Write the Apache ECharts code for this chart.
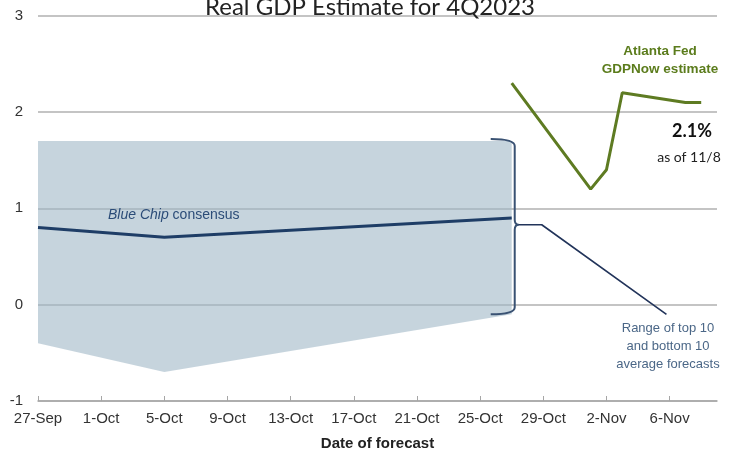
<!DOCTYPE html>
<html>
<head>
<meta charset="utf-8">
<script src="https://cdn.jsdelivr.net/npm/echarts@6/dist/echarts.min.js"></script>
<style>html,body{margin:0;padding:0;background:#fff}#c{width:740px;height:456px}</style>
</head>
<body>
<div id="c"></div>
<script>
// ---- data ----
var startDate = '2023-09-27';
var tickLabels = ['27-Sep','1-Oct','5-Oct','9-Oct','13-Oct','17-Oct','21-Oct','25-Oct','29-Oct','2-Nov','6-Nov'];
var blueChipDates = ['2023-09-27','2023-10-05','2023-10-27'];
var blueChipValues = [0.8, 0.7, 0.9];
var bandDates = ['2023-09-27','2023-10-05','2023-10-27'];
var bandLow = [-0.4, -0.7, -0.1];
var bandHigh = [1.7, 1.7, 1.7];
var gdpNowDates = ['2023-10-27','2023-11-01','2023-11-02','2023-11-03','2023-11-07','2023-11-08'];
var gdpNowValues = [2.3, 1.2, 1.4, 2.2, 2.1, 2.1];
var leaderX = [30.3, 31.9, 39.8];
var leaderY = [0.83, 0.83, -0.1];

function dayOf(s){
  var a = s.split('-'), b = startDate.split('-');
  return Math.round((Date.UTC(+a[0],a[1]-1,+a[2]) - Date.UTC(+b[0],b[1]-1,+b[2]))/86400000);
}
function pairs(ds, vs){ return ds.map(function(d,i){ return [dayOf(d), vs[i]]; }); }

var bandData = bandDates.map(function(d,i){ return [dayOf(d), bandLow[i], bandHigh[i]]; });
var bracketData = [[dayOf(bandDates[bandDates.length-1]), bandHigh[bandHigh.length-1], bandLow[bandLow.length-1], leaderY[0]]];

var chart = echarts.init(document.getElementById('c'), null, {renderer:'canvas'});
chart.setOption({
  animation:false,
  backgroundColor:'#fff',
  title:{
    text:'Real GDP Estimate for 4Q2023', left:'center', top:-10,
    textStyle:{fontFamily:'Lato, "Open Sans", sans-serif', fontSize:24, fontWeight:'normal', color:'#222'}
  },
  grid:{left:38, right:23, top:15.7, bottom:54, containLabel:false},
  xAxis:{
    type:'value', min:0, max:43, interval:4,
    axisLine:{show:true, onZero:false, lineStyle:{color:'#a6a6a6', width:1.5}},
    axisTick:{show:true, inside:true, length:5, lineStyle:{color:'#a6a6a6'}},
    splitLine:{show:false},
    axisLabel:{
      margin:10, color:'#333', fontSize:15, showMaxLabel:false,
      fontFamily:'"Liberation Sans", sans-serif',
      formatter:function(v){ return (v % 4 === 0 && tickLabels[v/4]) ? tickLabels[v/4] : ''; }
    },
    name:'Date of forecast', nameLocation:'middle', nameGap:35,
    nameTextStyle:{fontFamily:'"Liberation Sans", sans-serif', fontSize:15, fontWeight:'bold', color:'#222'}
  },
  yAxis:{
    type:'value', min:-1, max:3, interval:1,
    axisLine:{show:false}, axisTick:{show:false},
    splitLine:{show:true, lineStyle:{color:'#c4c4c4', width:2}},
    axisLabel:{margin:15, color:'#333', fontSize:15, fontFamily:'"Liberation Sans", sans-serif'}
  },
  series:[
    {type:'custom', data:bandData, z:1, silent:true,
     renderItem:function(params, api){
       if (params.dataIndex !== 0) return null;
       var top = [], bot = [];
       for (var i = 0; i < bandData.length; i++){
         top.push(api.coord([bandData[i][0], bandData[i][2]]));
         bot.unshift(api.coord([bandData[i][0], bandData[i][1]]));
       }
       return {type:'polygon', shape:{points:top.concat(bot)}, style:{fill:'rgba(160,183,199,0.6)'}};
     }},
    {type:'line', data:pairs(blueChipDates, blueChipValues), symbol:'none',
     lineStyle:{color:'#1e3d66', width:3}, z:3},
    {type:'line', data:pairs(gdpNowDates, gdpNowValues), symbol:'none',
     lineStyle:{color:'#5e7b22', width:3}, z:3},
    {type:'line', data:leaderX.map(function(x,i){return [x, leaderY[i]];}), symbol:'none',
     lineStyle:{color:'#22345a', width:1.6}, z:3},
    {type:'custom', data:bracketData, z:4,
     renderItem:function(params, api){
       var top = api.coord([api.value(0), api.value(1)]);
       var bot = api.coord([api.value(0), api.value(2)]);
       var mid = api.coord([api.value(0), api.value(3)]);
       var xb = top[0] + 3, yt = top[1] - 2, yb = bot[1], ym = mid[1];
       var p = 'M' + (xb-24) + ' ' + yt +
         ' Q' + xb + ' ' + yt + ' ' + xb + ' ' + (yt+7) +
         ' L' + xb + ' ' + (ym-5) +
         ' Q' + xb + ' ' + ym + ' ' + (xb+4) + ' ' + ym +
         ' Q' + xb + ' ' + ym + ' ' + xb + ' ' + (ym+5) +
         ' L' + xb + ' ' + (yb-7) +
         ' Q' + xb + ' ' + yb + ' ' + (xb-24) + ' ' + yb;
       return {type:'path', shape:{pathData:p}, style:{fill:null, stroke:'#3a5273', lineWidth:2}};
     }}
  ],
  graphic:[
    {type:'text', left:108, top:208, z:100, style:{
      text:'{i|Blue Chip} consensus',
      rich:{i:{fontStyle:'italic', fontSize:14, fill:'#2b4c78', fontFamily:'"Liberation Sans", sans-serif'}},
      fontSize:14, fill:'#2b4c78', fontFamily:'"Liberation Sans", sans-serif'}},
    {type:'text', x:660, y:60, z:100, style:{text:'Atlanta Fed\nGDPNow estimate', align:'center', verticalAlign:'middle',
      lineHeight:18, fontSize:13.5, fontWeight:'bold', fill:'#5b7c1c', fontFamily:'"Liberation Sans", sans-serif'}},
    {type:'text', x:692, y:131, z:100, style:{text:'2.1%', align:'center', verticalAlign:'middle',
      fontSize:18, fontWeight:'bold', fill:'#111', fontFamily:'Lato, "Open Sans", sans-serif'}},
    {type:'text', x:689, y:157, z:100, style:{text:'as of 11/8', align:'center', verticalAlign:'middle',
      fontSize:14, fill:'#222', fontFamily:'Lato, "Open Sans", sans-serif'}},
    {type:'text', x:668, y:346, z:100, style:{text:'Range of top 10\nand bottom 10\naverage forecasts', align:'center', verticalAlign:'middle',
      lineHeight:18, fontSize:13, fill:'#4b6787', fontFamily:'"Liberation Sans", sans-serif'}}
  ]
});
</script>
</body>
</html>
